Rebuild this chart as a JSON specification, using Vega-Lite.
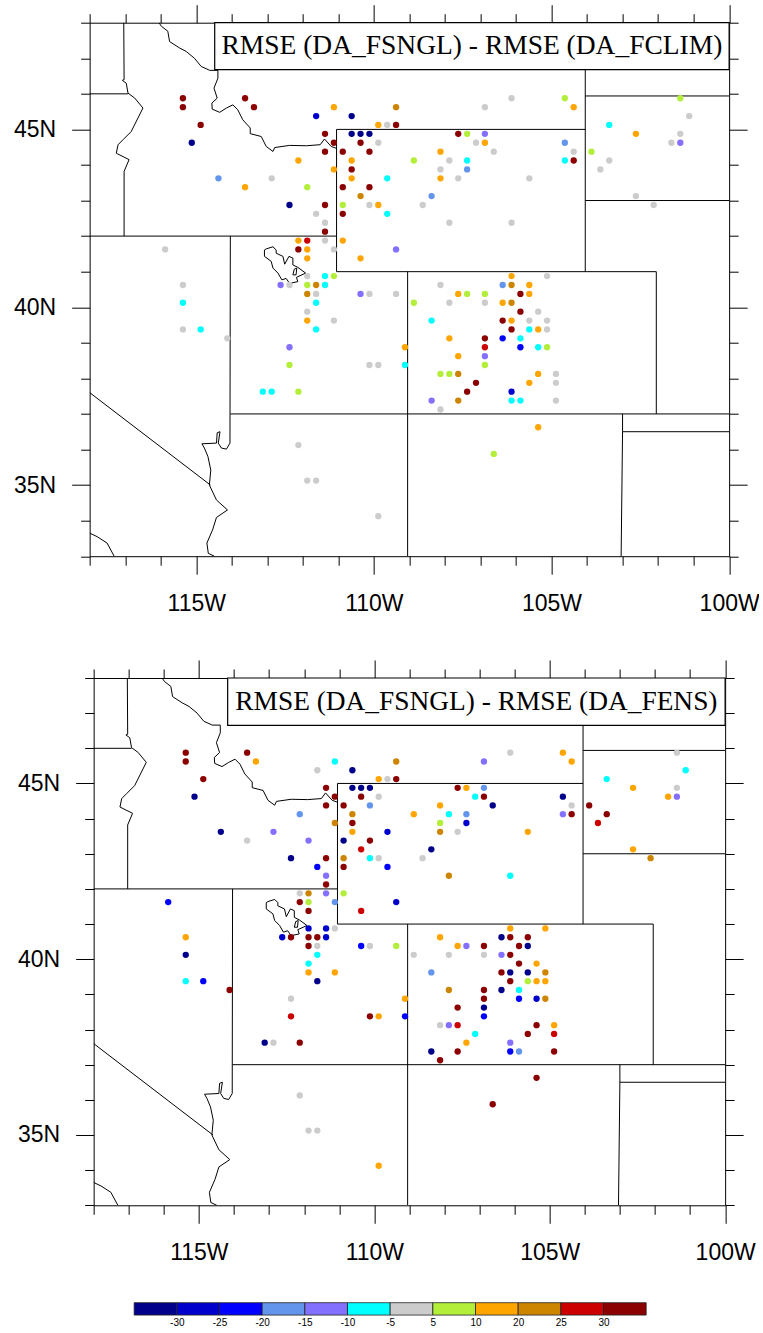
{
"$schema":"https://vega.github.io/schema/vega-lite/v6.json",
"background":"white",
"padding":{"left":13.3,"top":3.7,"right":0,"bottom":0},
"config":{"view":{"stroke":null},"font":"Liberation Sans"},
"datasets":{
"borders":[
{"id":"a","lon":-117.04,"lat":48},{"id":"a","lon":-117.03,"lat":46.4},{"id":"a","lon":-117.08,"lat":46.38},{"id":"a","lon":-116.97,"lat":46.3},{"id":"a","lon":-116.92,"lat":46.02},{"id":"a","lon":-116.73,"lat":45.88},{"id":"a","lon":-116.5,"lat":45.6},{"id":"a","lon":-116.83,"lat":44.94},{"id":"a","lon":-117.06,"lat":44.71},{"id":"a","lon":-117.2,"lat":44.57},{"id":"a","lon":-117.25,"lat":44.33},{"id":"a","lon":-116.89,"lat":44.15},{"id":"a","lon":-117.03,"lat":43.82},{"id":"a","lon":-117.03,"lat":42},
{"id":"b","lon":-118,"lat":46},{"id":"b","lon":-116.92,"lat":46},
{"id":"c","lon":-118,"lat":42},{"id":"c","lon":-111.05,"lat":42},
{"id":"d","lon":-114.04,"lat":42},{"id":"d","lon":-114.05,"lat":36.18},{"id":"d","lon":-114.15,"lat":36.01},{"id":"d","lon":-114.29,"lat":36.04},{"id":"d","lon":-114.38,"lat":36.18},{"id":"d","lon":-114.33,"lat":36.5},{"id":"d","lon":-114.41,"lat":36.47},{"id":"d","lon":-114.43,"lat":36.18},{"id":"d","lon":-114.84,"lat":36.16},{"id":"d","lon":-114.77,"lat":36.04},{"id":"d","lon":-114.67,"lat":35.8},{"id":"d","lon":-114.59,"lat":35.42},{"id":"d","lon":-114.63,"lat":35},{"id":"d","lon":-114.43,"lat":34.58},{"id":"d","lon":-114.12,"lat":34.3},{"id":"d","lon":-114.43,"lat":34.09},{"id":"d","lon":-114.54,"lat":33.74},{"id":"d","lon":-114.7,"lat":33.37},{"id":"d","lon":-114.66,"lat":33.08},{"id":"d","lon":-114.49,"lat":33},
{"id":"e","lon":-118,"lat":37.6},{"id":"e","lon":-114.6,"lat":35},
{"id":"f","lon":-111.05,"lat":45},{"id":"f","lon":-111.05,"lat":41},
{"id":"g","lon":-111.05,"lat":45},{"id":"g","lon":-104.05,"lat":45},
{"id":"h","lon":-104.05,"lat":48},{"id":"h","lon":-104.05,"lat":41},
{"id":"i","lon":-111.05,"lat":41},{"id":"i","lon":-102.05,"lat":41},{"id":"i","lon":-102.05,"lat":37},
{"id":"j","lon":-109.05,"lat":41},{"id":"j","lon":-109.05,"lat":33},
{"id":"k","lon":-114.04,"lat":37},{"id":"k","lon":-100,"lat":37},
{"id":"l","lon":-104.05,"lat":45.94},{"id":"l","lon":-100,"lat":45.94},
{"id":"m","lon":-104.05,"lat":43},{"id":"m","lon":-100,"lat":43},
{"id":"n","lon":-103,"lat":37},{"id":"n","lon":-103,"lat":36.5},{"id":"n","lon":-103.04,"lat":33},
{"id":"o","lon":-103,"lat":36.5},{"id":"o","lon":-100,"lat":36.5},
{"id":"p","lon":-118,"lat":33.65},{"id":"p","lon":-117.79,"lat":33.55},{"id":"p","lon":-117.51,"lat":33.37},{"id":"p","lon":-117.31,"lat":33},
{"id":"q","lon":-116.05,"lat":48},{"id":"q","lon":-115.98,"lat":47.9},{"id":"q","lon":-115.8,"lat":47.76},{"id":"q","lon":-115.75,"lat":47.47},{"id":"q","lon":-115.47,"lat":47.29},{"id":"q","lon":-115.28,"lat":47.19},{"id":"q","lon":-115.05,"lat":47},{"id":"q","lon":-114.86,"lat":46.77},{"id":"q","lon":-114.62,"lat":46.66},{"id":"q","lon":-114.39,"lat":46.66},{"id":"q","lon":-114.39,"lat":46.44},{"id":"q","lon":-114.5,"lat":46.16},{"id":"q","lon":-114.41,"lat":45.88},{"id":"q","lon":-114.56,"lat":45.74},{"id":"q","lon":-114.55,"lat":45.57},{"id":"q","lon":-114.34,"lat":45.48},{"id":"q","lon":-114.15,"lat":45.6},{"id":"q","lon":-113.97,"lat":45.69},{"id":"q","lon":-113.83,"lat":45.55},{"id":"q","lon":-113.69,"lat":45.27},{"id":"q","lon":-113.48,"lat":45.04},{"id":"q","lon":-113.48,"lat":44.88},{"id":"q","lon":-113.17,"lat":44.8},{"id":"q","lon":-113.03,"lat":44.52},{"id":"q","lon":-112.84,"lat":44.38},{"id":"q","lon":-112.79,"lat":44.49},{"id":"q","lon":-112.37,"lat":44.55},{"id":"q","lon":-111.9,"lat":44.54},{"id":"q","lon":-111.51,"lat":44.57},{"id":"q","lon":-111.39,"lat":44.73},{"id":"q","lon":-111.2,"lat":44.52},{"id":"q","lon":-111.06,"lat":44.47},
{"id":"r","lon":-113.08,"lat":41.61},{"id":"r","lon":-113.03,"lat":41.64},{"id":"r","lon":-112.84,"lat":41.7},{"id":"r","lon":-112.75,"lat":41.61},{"id":"r","lon":-112.75,"lat":41.52},{"id":"r","lon":-112.56,"lat":41.43},{"id":"r","lon":-112.51,"lat":41.21},{"id":"r","lon":-112.39,"lat":41.43},{"id":"r","lon":-112.28,"lat":41.38},{"id":"r","lon":-112.28,"lat":41.19},{"id":"r","lon":-112.14,"lat":41.12},{"id":"r","lon":-111.92,"lat":40.96},{"id":"r","lon":-112.18,"lat":40.84},{"id":"r","lon":-112.14,"lat":40.72},{"id":"r","lon":-112.37,"lat":40.67},{"id":"r","lon":-112.47,"lat":40.81},{"id":"r","lon":-112.59,"lat":40.77},{"id":"r","lon":-112.7,"lat":40.96},{"id":"r","lon":-112.84,"lat":41.1},{"id":"r","lon":-112.89,"lat":41.29},{"id":"r","lon":-113.08,"lat":41.43},{"id":"r","lon":-113.08,"lat":41.61},
{"id":"s","lon":-112.24,"lat":41.07},{"id":"s","lon":-112.17,"lat":41.1},{"id":"s","lon":-112.19,"lat":40.91},{"id":"s","lon":-112.28,"lat":40.91},{"id":"s","lon":-112.24,"lat":41.07}
],
"top":[
{"lon":-115.375,"lat":45.875,"v":32},{"lon":-115.375,"lat":45.625,"v":32},{"lon":-114.875,"lat":45.125,"v":32},{"lon":-115.125,"lat":44.625,"v":-32},{"lon":-113.625,"lat":45.875,"v":32},{"lon":-113.375,"lat":45.625,"v":32},{"lon":-111.625,"lat":45.375,"v":-27},{"lon":-111.125,"lat":45.625,"v":15},{"lon":-110.625,"lat":45.375,"v":-32},{"lon":-109.375,"lat":45.625,"v":22},{"lon":-109.875,"lat":45.125,"v":15},{"lon":-109.625,"lat":45.125,"v":0},{"lon":-109.375,"lat":45.125,"v":32},
{"lon":-111.375,"lat":44.875,"v":32},{"lon":-110.625,"lat":44.875,"v":-32},{"lon":-110.375,"lat":44.875,"v":-32},{"lon":-110.125,"lat":44.875,"v":-32},{"lon":-111.125,"lat":44.625,"v":32},{"lon":-110.375,"lat":44.625,"v":32},{"lon":-109.875,"lat":44.625,"v":0},{"lon":-111.375,"lat":44.375,"v":32},{"lon":-110.875,"lat":44.375,"v":32},{"lon":-110.125,"lat":44.375,"v":32},{"lon":-112.125,"lat":44.125,"v":15},{"lon":-110.625,"lat":44.125,"v":15},{"lon":-111.125,"lat":43.875,"v":15},{"lon":-110.625,"lat":43.875,"v":32},{"lon":-114.375,"lat":43.625,"v":-17},{"lon":-112.875,"lat":43.625,"v":0},{"lon":-110.625,"lat":43.625,"v":15},{"lon":-109.625,"lat":43.625,"v":-7},{"lon":-113.625,"lat":43.375,"v":15},{"lon":-111.875,"lat":43.375,"v":7},{"lon":-110.875,"lat":43.375,"v":32},{"lon":-110.125,"lat":43.375,"v":32},{"lon":-110.375,"lat":43.125,"v":22},{"lon":-112.375,"lat":42.875,"v":-32},{"lon":-111.375,"lat":42.875,"v":32},{"lon":-110.875,"lat":42.875,"v":7},{"lon":-110.125,"lat":42.875,"v":0},{"lon":-109.875,"lat":42.875,"v":15},{"lon":-111.625,"lat":42.625,"v":0},{"lon":-110.875,"lat":42.625,"v":32},{"lon":-109.625,"lat":42.625,"v":-7},{"lon":-111.375,"lat":42.375,"v":0},{"lon":-111.375,"lat":42.125,"v":32},{"lon":-112.125,"lat":41.875,"v":15},{"lon":-111.875,"lat":41.875,"v":27},{"lon":-111.375,"lat":41.875,"v":0},{"lon":-110.875,"lat":41.875,"v":15},{"lon":-115.875,"lat":41.625,"v":0},{"lon":-112.125,"lat":41.625,"v":32},{"lon":-111.875,"lat":41.625,"v":15},{"lon":-111.125,"lat":41.625,"v":0},{"lon":-109.375,"lat":41.625,"v":-12},
{"lon":-111.875,"lat":41.375,"v":15},{"lon":-110.375,"lat":41.375,"v":15},{"lon":-111.875,"lat":40.875,"v":0},{"lon":-111.375,"lat":40.875,"v":-7},{"lon":-111.125,"lat":40.875,"v":7},{"lon":-115.375,"lat":40.625,"v":0},{"lon":-112.625,"lat":40.625,"v":-12},{"lon":-112.375,"lat":40.625,"v":0},{"lon":-111.875,"lat":40.625,"v":7},{"lon":-111.625,"lat":40.625,"v":22},{"lon":-111.375,"lat":40.625,"v":-7},{"lon":-111.875,"lat":40.375,"v":22},{"lon":-111.625,"lat":40.375,"v":0},{"lon":-110.375,"lat":40.375,"v":-12},{"lon":-110.125,"lat":40.375,"v":0},{"lon":-109.375,"lat":40.375,"v":0},{"lon":-115.375,"lat":40.125,"v":-7},{"lon":-111.625,"lat":40.125,"v":-7},{"lon":-111.875,"lat":39.875,"v":0},{"lon":-111.875,"lat":39.625,"v":15},{"lon":-111.125,"lat":39.625,"v":0},{"lon":-115.375,"lat":39.375,"v":0},{"lon":-114.875,"lat":39.375,"v":-7},{"lon":-111.625,"lat":39.375,"v":-7},{"lon":-114.125,"lat":39.125,"v":0},{"lon":-112.375,"lat":38.875,"v":-12},{"lon":-109.125,"lat":38.875,"v":15},{"lon":-112.375,"lat":38.375,"v":7},{"lon":-110.125,"lat":38.375,"v":0},{"lon":-109.875,"lat":38.375,"v":0},{"lon":-109.125,"lat":38.375,"v":-7},{"lon":-113.125,"lat":37.625,"v":-7},{"lon":-112.875,"lat":37.625,"v":-7},{"lon":-112.125,"lat":37.625,"v":7},
{"lon":-106.125,"lat":45.875,"v":0},{"lon":-104.625,"lat":45.875,"v":7},{"lon":-101.375,"lat":45.875,"v":7},{"lon":-106.875,"lat":45.625,"v":0},{"lon":-104.375,"lat":45.625,"v":15},{"lon":-101.125,"lat":45.375,"v":0},{"lon":-103.375,"lat":45.125,"v":-7},{"lon":-107.625,"lat":44.875,"v":32},{"lon":-107.375,"lat":44.875,"v":7},{"lon":-106.875,"lat":44.875,"v":-12},{"lon":-102.625,"lat":44.875,"v":15},{"lon":-101.375,"lat":44.875,"v":0},{"lon":-107.125,"lat":44.625,"v":0},{"lon":-106.875,"lat":44.625,"v":15},{"lon":-104.625,"lat":44.625,"v":-17},{"lon":-101.625,"lat":44.625,"v":0},{"lon":-101.375,"lat":44.625,"v":-12},{"lon":-108.125,"lat":44.375,"v":15},{"lon":-106.625,"lat":44.375,"v":0},{"lon":-104.375,"lat":44.375,"v":0},{"lon":-103.875,"lat":44.375,"v":7},{"lon":-108.875,"lat":44.125,"v":7},{"lon":-107.875,"lat":44.125,"v":0},{"lon":-107.375,"lat":44.125,"v":-7},{"lon":-104.625,"lat":44.125,"v":-7},{"lon":-104.375,"lat":44.125,"v":32},{"lon":-103.375,"lat":44.125,"v":0},{"lon":-108.125,"lat":43.875,"v":0},{"lon":-107.375,"lat":43.875,"v":-17},{"lon":-103.625,"lat":43.875,"v":0},{"lon":-108.125,"lat":43.625,"v":15},{"lon":-107.625,"lat":43.625,"v":0},{"lon":-105.625,"lat":43.625,"v":0},{"lon":-108.375,"lat":43.125,"v":-17},{"lon":-102.625,"lat":43.125,"v":0},{"lon":-108.625,"lat":42.875,"v":0},{"lon":-102.125,"lat":42.875,"v":0},{"lon":-107.875,"lat":42.375,"v":0},{"lon":-106.125,"lat":42.375,"v":0},
{"lon":-106.125,"lat":40.875,"v":15},{"lon":-105.125,"lat":40.875,"v":0},{"lon":-108.125,"lat":40.625,"v":0},{"lon":-106.375,"lat":40.625,"v":-17},{"lon":-106.125,"lat":40.625,"v":22},{"lon":-105.625,"lat":40.625,"v":15},{"lon":-107.625,"lat":40.375,"v":15},{"lon":-107.375,"lat":40.375,"v":7},{"lon":-106.875,"lat":40.375,"v":7},{"lon":-105.875,"lat":40.375,"v":32},{"lon":-105.625,"lat":40.375,"v":15},{"lon":-108.875,"lat":40.125,"v":7},{"lon":-107.875,"lat":40.125,"v":0},{"lon":-106.875,"lat":40.125,"v":0},{"lon":-106.375,"lat":40.125,"v":15},{"lon":-106.125,"lat":40.125,"v":22},{"lon":-105.875,"lat":39.875,"v":32},{"lon":-105.375,"lat":39.875,"v":0},{"lon":-108.375,"lat":39.625,"v":-7},{"lon":-106.375,"lat":39.625,"v":32},{"lon":-106.125,"lat":39.625,"v":15},{"lon":-105.625,"lat":39.625,"v":0},{"lon":-105.125,"lat":39.625,"v":0},{"lon":-106.125,"lat":39.375,"v":32},{"lon":-105.625,"lat":39.375,"v":-7},{"lon":-105.375,"lat":39.375,"v":15},{"lon":-105.125,"lat":39.375,"v":0},{"lon":-107.875,"lat":39.125,"v":15},{"lon":-106.875,"lat":39.125,"v":32},{"lon":-106.375,"lat":39.125,"v":-22},{"lon":-105.875,"lat":39.125,"v":-7},{"lon":-106.875,"lat":38.875,"v":27},{"lon":-105.875,"lat":38.875,"v":-22},{"lon":-105.375,"lat":38.875,"v":-7},{"lon":-105.125,"lat":38.875,"v":7},{"lon":-107.625,"lat":38.625,"v":15},{"lon":-106.875,"lat":38.625,"v":-12},{"lon":-106.875,"lat":38.375,"v":7},{"lon":-108.125,"lat":38.125,"v":7},{"lon":-107.875,"lat":38.125,"v":7},{"lon":-107.625,"lat":38.125,"v":22},{"lon":-105.375,"lat":38.125,"v":15},{"lon":-104.875,"lat":38.125,"v":0},{"lon":-107.125,"lat":37.875,"v":32},{"lon":-105.625,"lat":37.875,"v":15},{"lon":-104.875,"lat":37.875,"v":0},{"lon":-107.375,"lat":37.625,"v":32},{"lon":-106.125,"lat":37.625,"v":-27},{"lon":-108.375,"lat":37.375,"v":-12},{"lon":-107.625,"lat":37.375,"v":22},{"lon":-106.125,"lat":37.375,"v":-7},{"lon":-105.875,"lat":37.375,"v":-7},{"lon":-104.875,"lat":37.375,"v":0},{"lon":-108.125,"lat":37.125,"v":0},
{"lon":-105.375,"lat":36.625,"v":15},{"lon":-106.625,"lat":35.875,"v":7},{"lon":-112.125,"lat":36.125,"v":0},{"lon":-111.875,"lat":35.125,"v":0},{"lon":-111.625,"lat":35.125,"v":0},{"lon":-109.875,"lat":34.125,"v":0}
],
"bottom":[
{"lon":-115.375,"lat":45.875,"v":32},{"lon":-115.375,"lat":45.625,"v":32},{"lon":-113.625,"lat":45.875,"v":32},{"lon":-113.375,"lat":45.625,"v":15},{"lon":-111.625,"lat":45.375,"v":0},{"lon":-111.125,"lat":45.625,"v":-7},{"lon":-110.625,"lat":45.375,"v":-32},{"lon":-109.375,"lat":45.625,"v":22},{"lon":-114.875,"lat":45.125,"v":32},{"lon":-115.125,"lat":44.625,"v":-32},{"lon":-109.875,"lat":45.125,"v":15},{"lon":-109.625,"lat":45.125,"v":0},{"lon":-109.375,"lat":45.125,"v":32},
{"lon":-111.375,"lat":44.875,"v":32},{"lon":-110.625,"lat":44.875,"v":-32},{"lon":-110.375,"lat":44.875,"v":-32},{"lon":-110.125,"lat":44.875,"v":-32},{"lon":-111.125,"lat":44.625,"v":32},{"lon":-110.375,"lat":44.625,"v":32},{"lon":-109.875,"lat":44.625,"v":0},{"lon":-111.375,"lat":44.375,"v":32},{"lon":-110.875,"lat":44.375,"v":32},{"lon":-110.125,"lat":44.375,"v":-17},{"lon":-112.125,"lat":44.125,"v":-17},{"lon":-110.625,"lat":44.125,"v":22},{"lon":-108.875,"lat":44.125,"v":15},{"lon":-111.125,"lat":43.875,"v":22},{"lon":-110.625,"lat":43.875,"v":32},{"lon":-114.375,"lat":43.625,"v":-32},{"lon":-112.875,"lat":43.625,"v":-12},{"lon":-110.625,"lat":43.625,"v":15},{"lon":-109.625,"lat":43.625,"v":-27},{"lon":-113.625,"lat":43.375,"v":0},{"lon":-111.875,"lat":43.375,"v":-12},{"lon":-110.875,"lat":43.375,"v":-32},{"lon":-110.125,"lat":43.375,"v":32},{"lon":-110.375,"lat":43.125,"v":27},{"lon":-112.375,"lat":42.875,"v":-32},{"lon":-111.375,"lat":42.875,"v":32},{"lon":-110.875,"lat":42.875,"v":22},{"lon":-110.125,"lat":42.875,"v":-7},{"lon":-109.875,"lat":42.875,"v":0},{"lon":-111.625,"lat":42.625,"v":-22},{"lon":-110.875,"lat":42.625,"v":32},{"lon":-109.625,"lat":42.625,"v":-22},{"lon":-111.375,"lat":42.375,"v":-12},{"lon":-111.375,"lat":42.125,"v":32},{"lon":-112.125,"lat":41.875,"v":0},{"lon":-111.875,"lat":41.875,"v":22},{"lon":-111.375,"lat":41.875,"v":-12},{"lon":-110.875,"lat":41.875,"v":7},
{"lon":-115.875,"lat":41.625,"v":-22},{"lon":-112.125,"lat":41.625,"v":32},{"lon":-111.875,"lat":41.625,"v":7},{"lon":-111.125,"lat":41.625,"v":-17},{"lon":-109.375,"lat":41.625,"v":-27},{"lon":-111.875,"lat":41.375,"v":32},{"lon":-110.375,"lat":41.375,"v":27},{"lon":-111.875,"lat":40.875,"v":-27},{"lon":-111.375,"lat":40.875,"v":-27},{"lon":-111.125,"lat":40.875,"v":0},{"lon":-115.375,"lat":40.625,"v":15},{"lon":-112.625,"lat":40.625,"v":-27},{"lon":-112.375,"lat":40.625,"v":32},{"lon":-111.875,"lat":40.625,"v":32},{"lon":-111.625,"lat":40.625,"v":32},{"lon":-111.375,"lat":40.625,"v":-27},{"lon":-111.875,"lat":40.375,"v":32},{"lon":-111.625,"lat":40.375,"v":0},{"lon":-110.375,"lat":40.375,"v":-22},{"lon":-110.125,"lat":40.375,"v":0},{"lon":-109.375,"lat":40.375,"v":7},{"lon":-115.375,"lat":40.125,"v":-32},{"lon":-111.625,"lat":40.125,"v":-7},{"lon":-111.875,"lat":39.875,"v":-7},{"lon":-111.875,"lat":39.625,"v":15},{"lon":-111.125,"lat":39.625,"v":15},{"lon":-115.375,"lat":39.375,"v":-7},{"lon":-114.875,"lat":39.375,"v":-22},{"lon":-111.625,"lat":39.375,"v":-32},{"lon":-114.125,"lat":39.125,"v":32},{"lon":-112.375,"lat":38.875,"v":0},{"lon":-109.125,"lat":38.875,"v":15},{"lon":-112.375,"lat":38.375,"v":27},{"lon":-110.125,"lat":38.375,"v":32},{"lon":-109.875,"lat":38.375,"v":15},{"lon":-109.125,"lat":38.375,"v":-22},{"lon":-113.125,"lat":37.625,"v":-32},{"lon":-112.875,"lat":37.625,"v":0},{"lon":-112.125,"lat":37.625,"v":32},
{"lon":-106.125,"lat":45.875,"v":0},{"lon":-104.625,"lat":45.875,"v":15},{"lon":-101.375,"lat":45.875,"v":0},{"lon":-106.875,"lat":45.625,"v":-12},{"lon":-104.375,"lat":45.625,"v":15},{"lon":-101.125,"lat":45.375,"v":-7},{"lon":-103.375,"lat":45.125,"v":-7},{"lon":-107.625,"lat":44.875,"v":32},{"lon":-107.375,"lat":44.875,"v":15},{"lon":-106.875,"lat":44.875,"v":-17},{"lon":-102.625,"lat":44.875,"v":15},{"lon":-101.375,"lat":44.875,"v":0},{"lon":-107.125,"lat":44.625,"v":-7},{"lon":-106.875,"lat":44.625,"v":32},{"lon":-104.625,"lat":44.625,"v":-32},{"lon":-101.625,"lat":44.625,"v":15},{"lon":-101.375,"lat":44.625,"v":-12},{"lon":-108.125,"lat":44.375,"v":15},{"lon":-106.625,"lat":44.375,"v":-32},{"lon":-104.375,"lat":44.375,"v":0},{"lon":-103.875,"lat":44.375,"v":32},{"lon":-107.875,"lat":44.125,"v":-7},{"lon":-107.375,"lat":44.125,"v":-17},{"lon":-104.625,"lat":44.125,"v":-12},{"lon":-104.375,"lat":44.125,"v":32},{"lon":-103.375,"lat":44.125,"v":32},{"lon":-108.125,"lat":43.875,"v":7},{"lon":-107.375,"lat":43.875,"v":-27},{"lon":-103.625,"lat":43.875,"v":27},{"lon":-108.125,"lat":43.625,"v":22},{"lon":-107.625,"lat":43.625,"v":0},{"lon":-105.625,"lat":43.625,"v":15},{"lon":-108.375,"lat":43.125,"v":-32},{"lon":-102.625,"lat":43.125,"v":15},{"lon":-108.625,"lat":42.875,"v":0},{"lon":-102.125,"lat":42.875,"v":22},{"lon":-107.875,"lat":42.375,"v":22},{"lon":-106.125,"lat":42.375,"v":-7},
{"lon":-106.125,"lat":40.875,"v":15},{"lon":-105.125,"lat":40.875,"v":15},{"lon":-108.125,"lat":40.625,"v":15},{"lon":-106.375,"lat":40.625,"v":-32},{"lon":-106.125,"lat":40.625,"v":32},{"lon":-105.625,"lat":40.625,"v":32},{"lon":-107.625,"lat":40.375,"v":15},{"lon":-107.375,"lat":40.375,"v":-12},{"lon":-106.875,"lat":40.375,"v":32},{"lon":-105.875,"lat":40.375,"v":32},{"lon":-105.625,"lat":40.375,"v":-32},{"lon":-108.875,"lat":40.125,"v":0},{"lon":-107.875,"lat":40.125,"v":0},{"lon":-106.875,"lat":40.125,"v":0},{"lon":-106.375,"lat":40.125,"v":-12},{"lon":-106.125,"lat":40.125,"v":32},{"lon":-105.875,"lat":39.875,"v":32},{"lon":-105.375,"lat":39.875,"v":15},{"lon":-108.375,"lat":39.625,"v":-17},{"lon":-106.375,"lat":39.625,"v":32},{"lon":-106.125,"lat":39.625,"v":-32},{"lon":-105.625,"lat":39.625,"v":-32},{"lon":-105.125,"lat":39.625,"v":22},{"lon":-106.125,"lat":39.375,"v":32},{"lon":-105.625,"lat":39.375,"v":7},{"lon":-105.375,"lat":39.375,"v":15},{"lon":-105.125,"lat":39.375,"v":15},{"lon":-107.875,"lat":39.125,"v":22},{"lon":-106.875,"lat":39.125,"v":32},{"lon":-106.375,"lat":39.125,"v":-32},{"lon":-105.875,"lat":39.125,"v":-7},{"lon":-106.875,"lat":38.875,"v":32},{"lon":-105.875,"lat":38.875,"v":-22},{"lon":-105.375,"lat":38.875,"v":-27},{"lon":-105.125,"lat":38.875,"v":22},{"lon":-107.625,"lat":38.625,"v":32},{"lon":-106.875,"lat":38.625,"v":-32},{"lon":-106.875,"lat":38.375,"v":-22},{"lon":-108.125,"lat":38.125,"v":0},{"lon":-107.875,"lat":38.125,"v":-12},{"lon":-107.625,"lat":38.125,"v":27},{"lon":-105.375,"lat":38.125,"v":32},{"lon":-104.875,"lat":38.125,"v":15},{"lon":-107.125,"lat":37.875,"v":-7},{"lon":-105.625,"lat":37.875,"v":32},{"lon":-104.875,"lat":37.875,"v":27},{"lon":-107.375,"lat":37.625,"v":15},{"lon":-106.125,"lat":37.625,"v":-12},{"lon":-108.375,"lat":37.375,"v":-32},{"lon":-107.625,"lat":37.375,"v":32},{"lon":-106.125,"lat":37.375,"v":-22},{"lon":-105.875,"lat":37.375,"v":-17},{"lon":-104.875,"lat":37.375,"v":32},{"lon":-108.125,"lat":37.125,"v":32},
{"lon":-105.375,"lat":36.625,"v":32},{"lon":-106.625,"lat":35.875,"v":32},{"lon":-112.125,"lat":36.125,"v":0},{"lon":-111.875,"lat":35.125,"v":0},{"lon":-111.625,"lat":35.125,"v":0},{"lon":-109.875,"lat":34.125,"v":15}
],
"bins":[
{"i0":0,"i1":1,"v":-32},{"i0":1,"i1":2,"v":-27},{"i0":2,"i1":3,"v":-22},{"i0":3,"i1":4,"v":-17},{"i0":4,"i1":5,"v":-12},{"i0":5,"i1":6,"v":-7},{"i0":6,"i1":7,"v":0},{"i0":7,"i1":8,"v":7},{"i0":8,"i1":9,"v":15},{"i0":9,"i1":10,"v":22},{"i0":10,"i1":11,"v":27},{"i0":11,"i1":12,"v":32}
]
},
"spacing":37,
"center":true,
"vconcat":[
{"spacing":43.3,"center":true,"vconcat":[
{"width":639.5,"height":533.5,
"resolve":{"axis":{"x":"independent","y":"independent"}},
"layer":[
{"data":{"name":"borders"},"mark":{"type":"line","color":"black","strokeWidth":1,"clip":true},
"encoding":{"detail":{"field":"id"},"order":{"value":null},
"x":{"field":"lon","type":"quantitative","title":null,"scale":{"domain":[-118,-100],"nice":false,"zero":false},
"axis":{"orient":"bottom","values":[-118,-117,-116,-115,-114,-113,-112,-111,-110,-109,-108,-107,-106,-105,-104,-103,-102,-101,-100],"labelExpr":"datum.value%5===0?abs(datum.value)+'W':''","labelOverlap":false,"labelFlush":false,"labelFont":"Liberation Sans","labelFontSize":23,"labelColor":"black","labelPadding":18,"tickColor":"black","domainColor":"black","grid":false,"tickSize":{"condition":{"test":"datum.value%5===0","value":18},"value":9}}},
"y":{"field":"lat","type":"quantitative","title":null,"scale":{"domain":[33,48],"nice":false,"zero":false},
"axis":{"orient":"left","values":[33,34,35,36,37,38,39,40,41,42,43,44,45,46,47,48],"labelExpr":"datum.value%5===0?datum.value+'N':''","labelOverlap":false,"labelFlush":false,"labelFont":"Liberation Sans","labelFontSize":23,"labelColor":"black","labelPadding":16,"tickColor":"black","domainColor":"black","grid":false,"tickSize":{"condition":{"test":"datum.value%5===0","value":18},"value":9}}}}},
{"data":{"name":"top"},"mark":{"type":"circle","size":40,"opacity":1},
"encoding":{
"x":{"field":"lon","type":"quantitative","title":null,"scale":{"domain":[-118,-100],"nice":false,"zero":false},
"axis":{"orient":"top","values":[-118,-117,-116,-115,-114,-113,-112,-111,-110,-109,-108,-107,-106,-105,-104,-103,-102,-101,-100],"labels":false,"tickColor":"black","domainColor":"black","grid":false,"tickSize":{"condition":{"test":"datum.value%5===0","value":18},"value":9}}},
"y":{"field":"lat","type":"quantitative","title":null,"scale":{"domain":[33,48],"nice":false,"zero":false},
"axis":{"orient":"right","values":[33,34,35,36,37,38,39,40,41,42,43,44,45,46,47,48],"labels":false,"tickColor":"black","domainColor":"black","grid":false,"tickSize":{"condition":{"test":"datum.value%5===0","value":18},"value":9}}},
"color":{"field":"v","type":"quantitative","legend":null,"scale":{"type":"threshold","domain":[-30,-25,-20,-15,-10,-5,5,10,20,25,30],"range":["#00008b","#0000cd","#0000ff","#6495ed","#8470ff","#00ffff","#cccccc","#b3ee3a","#ffa500","#cd8500","#cd0000","#8b0000"]}}}},
{"data":{"values":[{"label":"RMSE (DA_FSNGL) - RMSE (DA_FCLIM)","lon0":-114.48,"lon1":-100,"lat0":46.68,"lat1":48,"lonc":-107.24,"latc":47.34}]},
"layer":[
{"mark":{"type":"rect","fill":"white","stroke":"black","strokeWidth":1.2},
"encoding":{"x":{"field":"lon0","type":"quantitative","axis":null},"x2":{"field":"lon1"},"y":{"field":"lat0","type":"quantitative","axis":null},"y2":{"field":"lat1"}}},
{"mark":{"type":"text","font":"Liberation Serif","fontSize":27.5,"color":"black","align":"center","baseline":"middle"},
"encoding":{"x":{"field":"lonc","type":"quantitative","axis":null},"y":{"field":"latc","type":"quantitative","axis":null},"text":{"field":"label"}}}
]}
]},
{"width":631.5,"height":527.3,
"resolve":{"axis":{"x":"independent","y":"independent"}},
"layer":[
{"data":{"name":"borders"},"mark":{"type":"line","color":"black","strokeWidth":1,"clip":true},
"encoding":{"detail":{"field":"id"},"order":{"value":null},
"x":{"field":"lon","type":"quantitative","title":null,"scale":{"domain":[-118,-100],"nice":false,"zero":false},
"axis":{"orient":"bottom","values":[-118,-117,-116,-115,-114,-113,-112,-111,-110,-109,-108,-107,-106,-105,-104,-103,-102,-101,-100],"labelExpr":"datum.value%5===0?abs(datum.value)+'W':''","labelOverlap":false,"labelFlush":false,"labelFont":"Liberation Sans","labelFontSize":23,"labelColor":"black","labelPadding":18,"tickColor":"black","domainColor":"black","grid":false,"tickSize":{"condition":{"test":"datum.value%5===0","value":18},"value":9}}},
"y":{"field":"lat","type":"quantitative","title":null,"scale":{"domain":[33,48],"nice":false,"zero":false},
"axis":{"orient":"left","values":[33,34,35,36,37,38,39,40,41,42,43,44,45,46,47,48],"labelExpr":"datum.value%5===0?datum.value+'N':''","labelOverlap":false,"labelFlush":false,"labelFont":"Liberation Sans","labelFontSize":23,"labelColor":"black","labelPadding":16,"tickColor":"black","domainColor":"black","grid":false,"tickSize":{"condition":{"test":"datum.value%5===0","value":18},"value":9}}}}},
{"data":{"name":"bottom"},"mark":{"type":"circle","size":40,"opacity":1},
"encoding":{
"x":{"field":"lon","type":"quantitative","title":null,"scale":{"domain":[-118,-100],"nice":false,"zero":false},
"axis":{"orient":"top","values":[-118,-117,-116,-115,-114,-113,-112,-111,-110,-109,-108,-107,-106,-105,-104,-103,-102,-101,-100],"labels":false,"tickColor":"black","domainColor":"black","grid":false,"tickSize":{"condition":{"test":"datum.value%5===0","value":18},"value":9}}},
"y":{"field":"lat","type":"quantitative","title":null,"scale":{"domain":[33,48],"nice":false,"zero":false},
"axis":{"orient":"right","values":[33,34,35,36,37,38,39,40,41,42,43,44,45,46,47,48],"labels":false,"tickColor":"black","domainColor":"black","grid":false,"tickSize":{"condition":{"test":"datum.value%5===0","value":18},"value":9}}},
"color":{"field":"v","type":"quantitative","legend":null,"scale":{"type":"threshold","domain":[-30,-25,-20,-15,-10,-5,5,10,20,25,30],"range":["#00008b","#0000cd","#0000ff","#6495ed","#8470ff","#00ffff","#cccccc","#b3ee3a","#ffa500","#cd8500","#cd0000","#8b0000"]}}}},
{"data":{"values":[{"label":"RMSE (DA_FSNGL) - RMSE (DA_FENS)","lon0":-114.18,"lon1":-100,"lat0":46.65,"lat1":48,"lonc":-107.09,"latc":47.33}]},
"layer":[
{"mark":{"type":"rect","fill":"white","stroke":"black","strokeWidth":1.2},
"encoding":{"x":{"field":"lon0","type":"quantitative","axis":null},"x2":{"field":"lon1"},"y":{"field":"lat0","type":"quantitative","axis":null},"y2":{"field":"lat1"}}},
{"mark":{"type":"text","font":"Liberation Serif","fontSize":27.4,"color":"black","align":"center","baseline":"middle"},
"encoding":{"x":{"field":"lonc","type":"quantitative","axis":null},"y":{"field":"latc","type":"quantitative","axis":null},"text":{"field":"label"}}}
]}
]}
]},
{"width":631.5,"height":12.4,
"data":{"name":"bins"},
"mark":{"type":"rect","stroke":"#222","strokeWidth":0.8},
"encoding":{
"x":{"field":"i0","type":"quantitative","title":null,"scale":{"domain":[-0.6,14.2],"nice":false,"zero":false},
"axis":{"orient":"bottom","values":[1,2,3,4,5,6,7,8,9,10,11],"labelExpr":"['-30','-25','-20','-15','-10','-5','5','10','20','25','30'][datum.value-1]","labelFont":"Liberation Sans","labelFontSize":10,"labelColor":"black","tickSize":0,"ticks":false,"domain":false,"grid":false,"labelPadding":2,"labelOverlap":false,"labelFlush":false}},
"x2":{"field":"i1"},
"color":{"field":"v","type":"quantitative","legend":null,"scale":{"type":"threshold","domain":[-30,-25,-20,-15,-10,-5,5,10,20,25,30],"range":["#00008b","#0000cd","#0000ff","#6495ed","#8470ff","#00ffff","#cccccc","#b3ee3a","#ffa500","#cd8500","#cd0000","#8b0000"]}}
}}
]
}
